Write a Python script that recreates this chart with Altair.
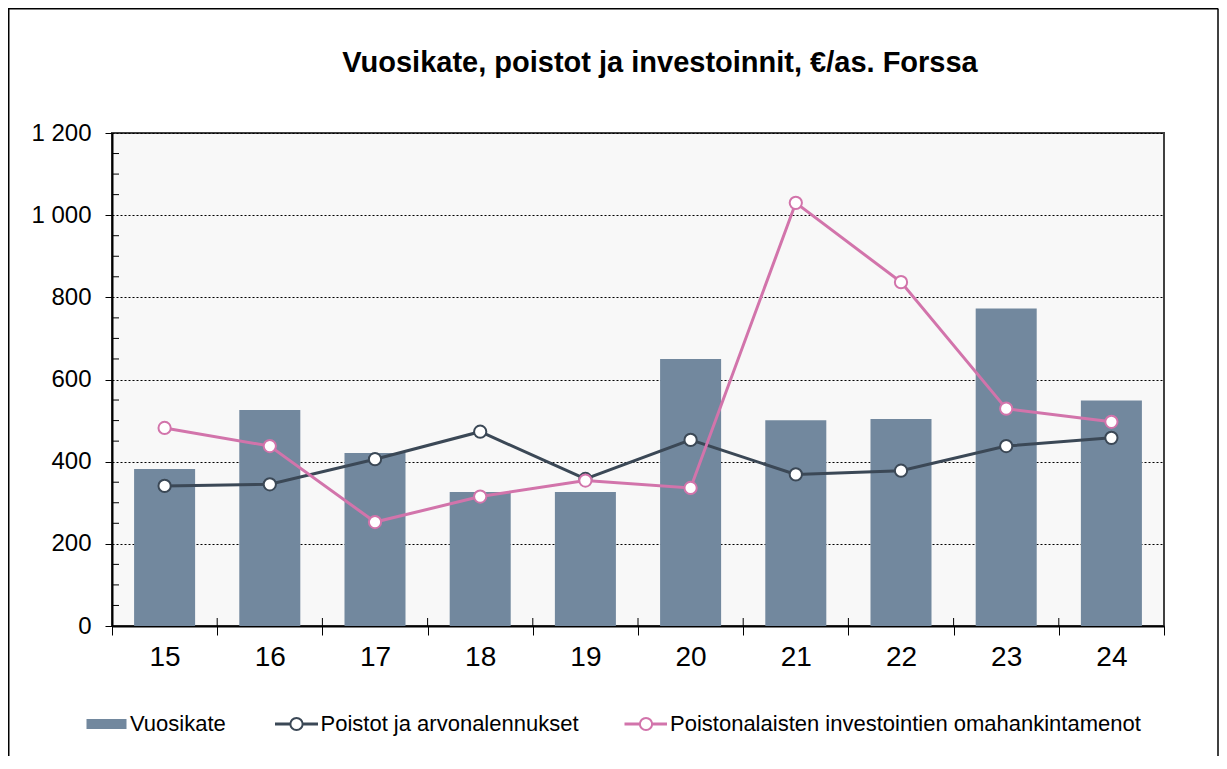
import altair as alt
import pandas as pd

# ---- data ----
years = ['15', '16', '17', '18', '19', '20', '21', '22', '23', '24']
vuosikate = [382, 526, 421, 326, 326, 650, 501, 504, 773, 549]
poistot = [341, 345, 406, 473, 358, 453, 369, 378, 438, 458]
omahankinta = [482, 438, 253, 315, 354, 336, 1030, 837, 529, 497]
series_names = ['Vuosikate', 'Poistot ja arvonalennukset',
                'Poistonalaisten investointien omahankintamenot']
title_text = 'Vuosikate, poistot ja investoinnit, €/as. Forssa'
y_major = [0, 200, 400, 600, 800, 1000, 1200]
y_minor = [50, 100, 150, 250, 300, 350, 450, 500, 550, 650, 700, 750,
           850, 900, 950, 1050, 1100, 1150]

BAR = '#72889E'
DARK = '#3B4856'
PINK = '#D274AB'
FONT = 'Liberation Sans'
W, H = 1052, 493

df = pd.DataFrame({'vuosi': years, 'vk': vuosikate, 'po': poistot, 'om': omahankinta})
minor_df = pd.DataFrame({'v': y_minor})
one = pd.DataFrame({'k': [0]})
leg_df = pd.DataFrame({'label': series_names})
title_df = pd.DataFrame({'t': [title_text]})

x_scale = alt.Scale(type='band', domain=years, paddingInner=0, paddingOuter=0)
x_axis = alt.Axis(title=None, tickBand='extent', labelAngle=0, labelFontSize=28,
                  labelFont=FONT, labelColor='black', tickColor='black', tickSize=9,
                  tickWidth=1, domainColor='black', domainWidth=2, labelPadding=8,
                  grid=False)
y_scale = alt.Scale(domain=[0, 1200], nice=False, zero=True)
y_axis = alt.Axis(title=None, values=y_major,
                  labelExpr="replace(format(datum.value, ',d'), ',', ' ')",
                  labelFontSize=24, labelFont=FONT, labelColor='black', tickSize=7,
                  tickColor='black', tickWidth=1, labelPadding=14,
                  domainColor='black', domainWidth=2, grid=True, gridColor='black',
                  gridDash=[2, 2], gridWidth=1, gridOpacity=1)


def X(**kw):
    return alt.X('vuosi:O', scale=x_scale, axis=x_axis, **kw)


def Y(field):
    return alt.Y(field, scale=y_scale, axis=y_axis)


base = alt.Chart(df)

bars = base.mark_bar(color=BAR, width=alt.RelativeBandSize(0.58)).encode(x=X(), y=Y('vk:Q'))

minor = alt.Chart(minor_df).mark_rule(color='black', strokeWidth=1).encode(
    y=Y('v:Q'), x=alt.value(0), x2=alt.value(7))

upticks = base.transform_filter("datum.vuosi != '15'").mark_rule(
    color='black', strokeWidth=1).encode(
    x=X(bandPosition=0), y=alt.value(H - 8), y2=alt.value(H))

LW = 3
PS = 150
dark_line = base.mark_line(color=DARK, strokeWidth=LW).encode(x=X(), y=Y('po:Q'))
dark_pts = base.mark_point(shape='circle', filled=True, fill='white', stroke=DARK,
                           strokeWidth=2, size=PS, opacity=1).encode(x=X(), y=Y('po:Q'))
pink_line = base.mark_line(color=PINK, strokeWidth=LW).encode(x=X(), y=Y('om:Q'))
pink_pts = base.mark_point(shape='circle', filled=True, fill='white', stroke=PINK,
                           strokeWidth=2, size=PS, opacity=1).encode(x=X(), y=Y('om:Q'))

# ---- title ----
title = alt.Chart(title_df).mark_text(
    align='center', baseline='alphabetic', fontSize=29, font=FONT, fontWeight='bold',
    color='black').encode(text='t:N', x=alt.value(W / 2 + 22), y=alt.value(-61))

# ---- legend (drawn manually below the plot) ----
LY = 591
leg_text_kw = dict(align='left', baseline='middle', fontSize=22, font=FONT, color='black')
leg_bar = alt.Chart(one).mark_rect(color=BAR).encode(
    x=alt.value(-25.5), x2=alt.value(14.5), y=alt.value(LY - 5), y2=alt.value(LY + 5))
leg_t1 = alt.Chart(leg_df).transform_filter(alt.datum.label == series_names[0]).mark_text(
    **leg_text_kw).encode(text='label:N', x=alt.value(18), y=alt.value(LY))
leg_l2 = alt.Chart(one).mark_rule(color=DARK, strokeWidth=LW).encode(
    x=alt.value(163), x2=alt.value(206), y=alt.value(LY))
leg_p2 = alt.Chart(one).mark_point(shape='circle', filled=True, fill='white', stroke=DARK,
                                   strokeWidth=2, size=PS, opacity=1).encode(
    x=alt.value(184.5), y=alt.value(LY))
leg_t2 = alt.Chart(leg_df).transform_filter(alt.datum.label == series_names[1]).mark_text(
    **leg_text_kw).encode(text='label:N', x=alt.value(208.5), y=alt.value(LY))
leg_l3 = alt.Chart(one).mark_rule(color=PINK, strokeWidth=LW).encode(
    x=alt.value(512.5), x2=alt.value(555), y=alt.value(LY))
leg_p3 = alt.Chart(one).mark_point(shape='circle', filled=True, fill='white', stroke=PINK,
                                   strokeWidth=2, size=PS, opacity=1).encode(
    x=alt.value(534), y=alt.value(LY))
leg_t3 = alt.Chart(leg_df).transform_filter(alt.datum.label == series_names[2]).mark_text(
    **leg_text_kw).encode(text='label:N', x=alt.value(558), y=alt.value(LY))

# ---- outer frame ----
PL, PT, PR, PB = 104, 125, 55, 130
frame_l = alt.Chart(one).mark_rule(color='black', strokeWidth=1.5).encode(
    x=alt.value(-PL + 0.75), y=alt.value(-PT + 0.75), y2=alt.value(H + PB))
frame_t = alt.Chart(one).mark_rule(color='black', strokeWidth=1.5).encode(
    x=alt.value(-PL), x2=alt.value(W + PR - 0.75), y=alt.value(-PT + 0.75))
frame_r = alt.Chart(one).mark_rule(color='black', strokeWidth=1.5).encode(
    x=alt.value(W + PR - 1), y=alt.value(-PT + 0.75), y2=alt.value(H + PB))

chart = alt.layer(
    bars, minor, upticks, dark_line, dark_pts, pink_line, pink_pts, title,
    leg_bar, leg_t1, leg_l2, leg_p2, leg_t2, leg_l3, leg_p3, leg_t3,
    frame_l, frame_t, frame_r,
).properties(
    width=W, height=H, autosize='none', background='white',
    padding={'left': PL, 'top': PT, 'right': PR, 'bottom': PB},
).configure_view(
    fill='#F8F8F8', stroke='#404040', strokeWidth=2
)

chart.save('out.html', embed_options={'renderer': 'svg', 'actions': False})
